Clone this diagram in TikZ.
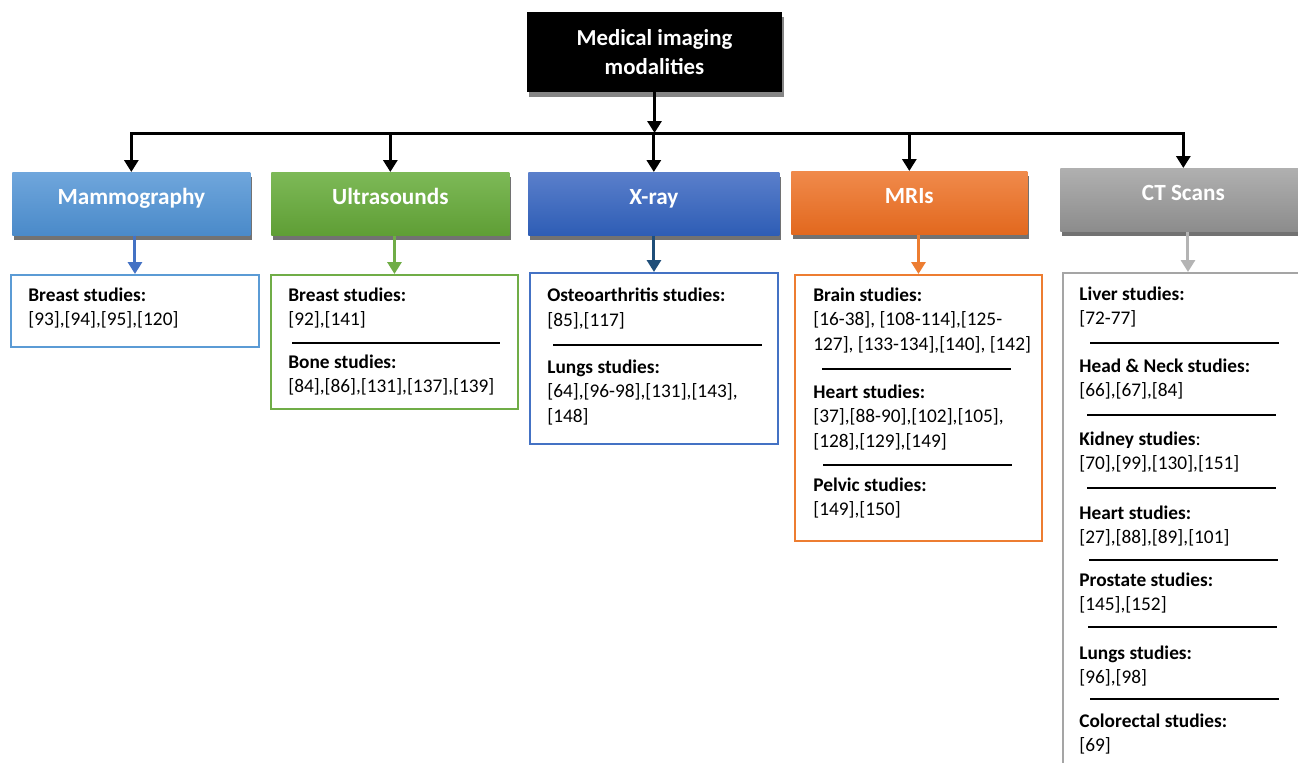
\documentclass[tikz,border=0pt]{standalone}
\usepackage{fontspec}
\setmainfont{Carlito}
\usetikzlibrary{positioning, arrows.meta, shadows}

\definecolor{mamblue}{HTML}{5B9BD5}
\definecolor{mamarrow}{HTML}{4472C4}
\definecolor{mamtop}{HTML}{6FA6DC}
\definecolor{mambot}{HTML}{4A8AC9}
\definecolor{ultgreen}{HTML}{70AD47}
\definecolor{ulttop}{HTML}{7DB957}
\definecolor{ultbot}{HTML}{5F9E35}
\definecolor{xrayblue}{HTML}{4472C4}
\definecolor{xrayarrow}{HTML}{1F4E79}
\definecolor{xraytop}{HTML}{5A7FCB}
\definecolor{xraybot}{HTML}{2E5DB5}
\definecolor{mriorange}{HTML}{ED7D31}
\definecolor{mritop}{HTML}{F08A4B}
\definecolor{mribot}{HTML}{E2681E}
\definecolor{ctgray}{HTML}{A5A5A5}
\definecolor{ctarrow}{HTML}{B4B4B4}
\definecolor{cttop}{HTML}{B0B0B0}
\definecolor{ctbot}{HTML}{8C8C8C}

\begin{document}
\begin{tikzpicture}[
x=0.02cm, y=-0.02cm,
topbox/.style={rectangle, fill=black, text=white, font=\fontsize{13}{17}\selectfont\bfseries, align=center, minimum width=5.1cm, minimum height=1.6cm, drop shadow={shadow xshift=0.04cm, shadow yshift=-0.1cm, fill=black!60, opacity=0.8}},
headbox/.style={rectangle, anchor=north west, text=white, font=\fontsize{13.2}{17}\selectfont\bfseries, inner ysep=0pt, text height=0.64cm, text depth=0.62cm, drop shadow={shadow xshift=0.04cm, shadow yshift=-0.1cm, fill=black!65, opacity=0.85}},
listbox/.style={rectangle, anchor=north west, draw, line width=0.04cm, fill=white, inner sep=0pt},
studies/.style={anchor=north west, inner sep=0pt, align=left, font=\fontsize{11}{13.7}\selectfont},
sep/.style={black, line width=0.025cm},
feed/.style={line width=0.06cm, -{Triangle[width=0.28cm, length=0.24cm]}}
]
\useasboundingbox (0,0) rectangle (1298,762);
\clip (0,0) rectangle (1298,762);

%Nodes
\node[topbox] (top) at (654.5,52) {Medical imaging\\modalities};
\coordinate (bar) at (654,133);

\node[headbox, top color=mamtop, bottom color=mambot, minimum width=4.76cm] (mam) at (12,172) {Mammography};
\node[headbox, top color=ulttop, bottom color=ultbot, minimum width=4.76cm] (ult) at (271,172) {Ultrasounds};
\node[headbox, top color=xraytop, bottom color=xraybot, minimum width=5.02cm] (xray) at (528,172) {X-ray};
\node[headbox, top color=mritop, bottom color=mribot, minimum width=4.72cm] (mri) at (791,171) {MRIs};
\node[headbox, top color=cttop, bottom color=ctbot, minimum width=4.92cm] (ct) at (1060,168) {CT Scans};

\node[listbox, draw=mamblue, minimum width=4.96cm, minimum height=1.44cm] (mamC) at (10,274) {};
\node[listbox, draw=ultgreen, minimum width=4.94cm, minimum height=2.68cm] (ultC) at (270,274) {};
\node[listbox, draw=xrayblue, minimum width=4.96cm, minimum height=3.42cm] (xrayC) at (529,272) {};
\node[listbox, draw=mriorange, minimum width=4.94cm, minimum height=5.32cm] (mriC) at (794,274) {};
\node[listbox, draw=ctgray, minimum width=5.0cm, minimum height=10.6cm] (ctC) at (1062,272) {};

%Texts
\node[studies] (mamT1) at (28,288) {\textbf{Breast studies:}\\{}[93],[94],[95],[120]};

\node[studies] (ultT1) at (288,288) {\textbf{Breast studies:}\\{}[92],[141]};
\node[studies] (ultT2) at (288,355) {\textbf{Bone studies:}\\{}[84],[86],[131],[137],[139]};

\node[studies] (xrayT1) at (547,288) {\textbf{Osteoarthritis studies:}\\{}[85],[117]};
\node[studies] (xrayT2) at (547,360) {\textbf{Lungs studies:}\\{}[64],[96-98],[131],[143],\\{}[148]};

\node[studies] (mriT1) at (813,288) {\textbf{Brain studies:}\\{}[16-38], [108-114],[125-\\127], [133-134],[140], [142]};
\node[studies] (mriT2) at (813,385) {\textbf{Heart studies:}\\{}[37],[88-90],[102],[105],\\{}[128],[129],[149]};
\node[studies] (mriT3) at (813,478) {\textbf{Pelvic studies:}\\{}[149],[150]};

\node[studies] (ctT1) at (1079,287) {\textbf{Liver studies:}\\{}[72-77]};
\node[studies] (ctT2) at (1079,359) {\textbf{Head \& Neck studies:}\\{}[66],[67],[84]};
\node[studies] (ctT3) at (1079,432) {\textbf{Kidney studies}:\\{}[70],[99],[130],[151]};
\node[studies] (ctT4) at (1079,506) {\textbf{Heart studies:}\\{}[27],[88],[89],[101]};
\node[studies] (ctT5) at (1079,573) {\textbf{Prostate studies:}\\{}[145],[152]};
\node[studies] (ctT6) at (1079,646) {\textbf{Lungs studies:}\\{}[96],[98]};
\node[studies] (ctT7) at (1079,714) {\textbf{Colorectal studies:}\\{}[69]};

%Separators
\draw[sep] (292,343) -- (500,343);
\draw[sep] (553,345) -- (762,345);
\draw[sep] (822,369) -- (1011,369);
\draw[sep] (823,465) -- (1012,465);
\draw[sep] (1090,343) -- (1279,343);
\draw[sep] (1087,415) -- (1276,415);
\draw[sep] (1087,488) -- (1276,488);
\draw[sep] (1089,560) -- (1278,560);
\draw[sep] (1088,627) -- (1277,627);
\draw[sep] (1090,699) -- (1279,699);

%Lines
\draw[feed] (top.south) -- (top.south |- bar);
\draw[line width=0.06cm, line cap=rect] (bar -| mam.north) -- (bar -| ct.north);
\draw[feed] (bar -| mam.north) -- (mam.north);
\draw[feed] (bar -| ult.north) -- (ult.north);
\draw[feed] (bar -| xray.north) -- (xray.north);
\draw[feed] (bar -| mri.north) -- (mri.north);
\draw[feed] (bar -| ct.north) -- (ct.north);

\draw[feed, draw=mamarrow] (mamC.north |- mam.south) -- (mamC.north);
\draw[feed, draw=ultgreen] (ultC.north |- ult.south) -- (ultC.north);
\draw[feed, draw=xrayarrow] (xrayC.north |- xray.south) -- (xrayC.north);
\draw[feed, draw=mriorange] (mriC.north |- mri.south) -- (mriC.north);
\draw[feed, draw=ctarrow] (ctC.north |- ct.south) -- (ctC.north);
\end{tikzpicture}
\end{document}
